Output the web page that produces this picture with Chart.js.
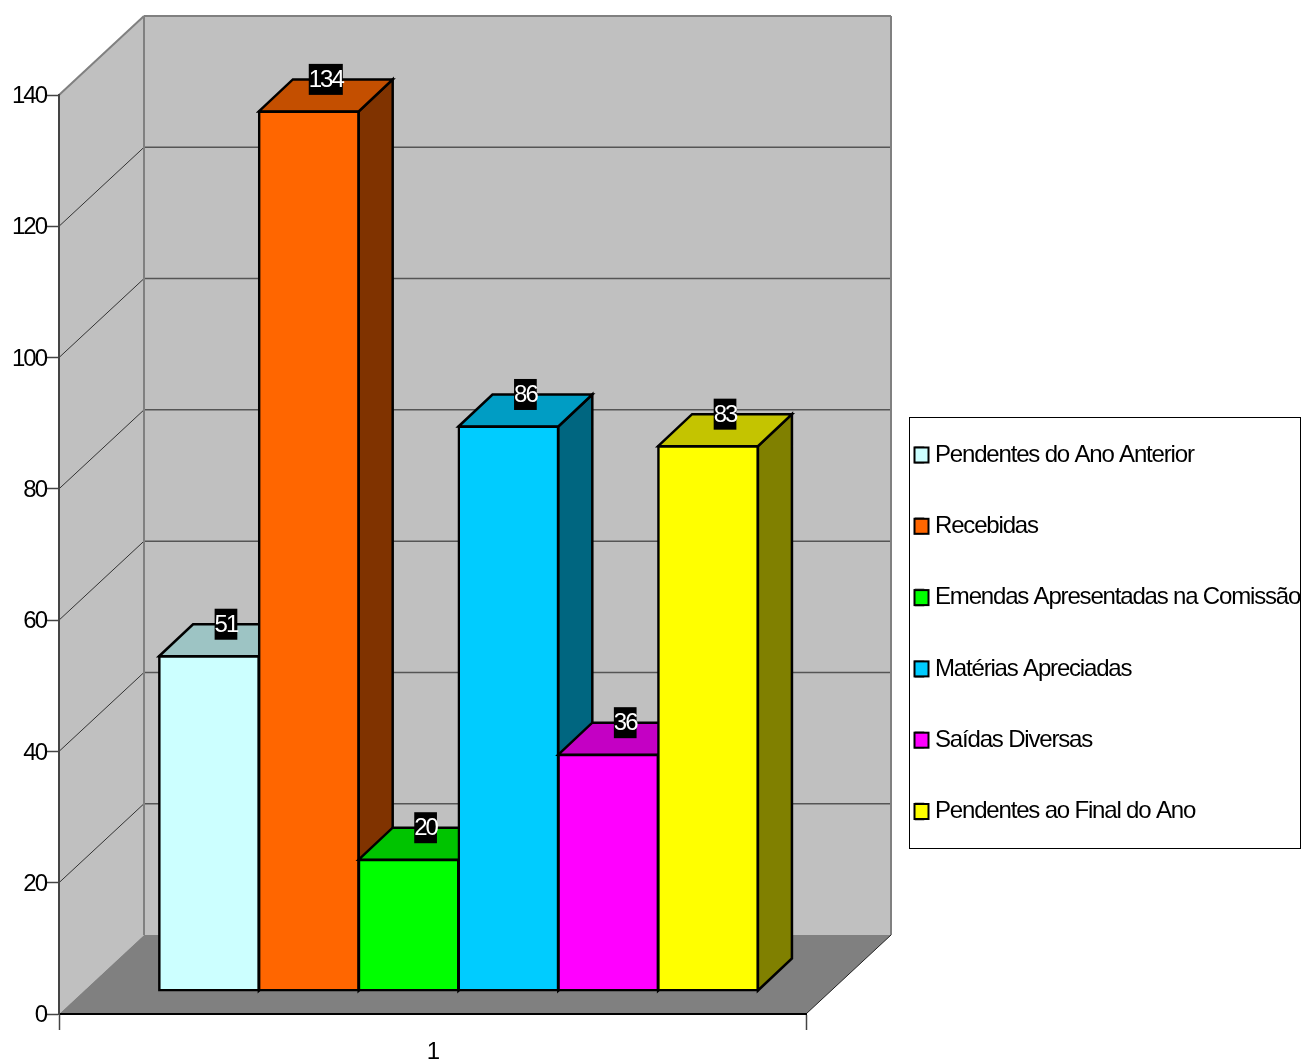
<!DOCTYPE html>
<html>
<head>
<meta charset="utf-8">
<title>Matérias</title>
<script src="https://cdn.jsdelivr.net/npm/chart.js@4/dist/chart.umd.min.js"></script>
<style>
    html, body { margin: 0; padding: 0; background: #fff; }
    canvas { display: block; }
</style>
</head>
<body>
<canvas id="chart" width="1303" height="1059"></canvas>
<script>
const categories = ['1'];
const seriesLabels = [
    'Pendentes do Ano Anterior',
    'Recebidas',
    'Emendas Apresentadas na Comissão',
    'Matérias Apreciadas',
    'Saídas Diversas',
    'Pendentes ao Final do Ano'
];
const seriesValues = [51, 134, 20, 86, 36, 83];
const seriesColors = ['#ccffff', '#ff6600', '#00ff00', '#00ccff', '#ff00ff', '#ffff00'];

// 3D look: how far the back wall and the bars are pushed back
const WALL = { dx: 85, dy: -79 };
const PLANE = { dx: 26, dy: -23 };
const DEPTH = { dx: 34, dy: -32 };
const FONT = '"Liberation Sans", Arial, sans-serif';
const TIGHT = '-2px';
const LEGEND_TIGHT = '-1.18px';

function shade(hex, factor) {
    const n = parseInt(hex.slice(1), 16);
    const c = [n >> 16, (n >> 8) & 255, n & 255].map(v => Math.round(v * factor));
    return `rgb(${c[0]},${c[1]},${c[2]})`;
}

function poly(ctx, pts, fill, stroke, width) {
    ctx.beginPath();
    pts.forEach((p, i) => i ? ctx.lineTo(p[0], p[1]) : ctx.moveTo(p[0], p[1]));
    ctx.closePath();
    if (fill) {
        ctx.fillStyle = fill;
        ctx.fill();
    }
    if (stroke) {
        ctx.strokeStyle = stroke;
        ctx.lineWidth = width;
        ctx.lineJoin = 'miter';
        ctx.stroke();
    }
}

function line(ctx, x1, y1, x2, y2, color, width) {
    ctx.beginPath();
    ctx.moveTo(x1, y1);
    ctx.lineTo(x2, y2);
    ctx.strokeStyle = color;
    ctx.lineWidth = width;
    ctx.stroke();
}

const room = {
    id: 'room',
    beforeDraw(chart) {
        const { ctx, chartArea: a, scales: { y } } = chart;
        ctx.letterSpacing = TIGHT;
        const top = a.top, bottom = a.bottom, left = a.left, right = a.right;
        const bx = left + WALL.dx, by = WALL.dy;
        ctx.save();
        // back wall, left wall, floor
        poly(ctx, [[bx, top + by], [right + WALL.dx, top + by], [right + WALL.dx, bottom + by], [bx, bottom + by]], '#c0c0c0');
        poly(ctx, [[left, top], [bx, top + by], [bx, bottom + by], [left, bottom]], '#c0c0c0');
        y.ticks.forEach(t => {
            if (t.value === 0 || t.value === y.max) return;
            const py = y.getPixelForValue(t.value);
            line(ctx, left, py, bx, py + by, '#333', 1);
            line(ctx, bx, py + by, right + WALL.dx, py + by, '#555', 1.5);
        });
        line(ctx, left, top, bx, top + by, '#808080', 2);
        line(ctx, bx, top + by, right + WALL.dx, top + by, '#808080', 2);
        line(ctx, bx, top + by, bx, bottom + by, '#808080', 2);
        line(ctx, right + WALL.dx, top + by, right + WALL.dx, bottom + by, '#808080', 2);
        poly(ctx, [[left, bottom], [bx, bottom + by], [right + WALL.dx, bottom + by], [right, bottom]], '#808080');
        line(ctx, right, bottom, right + WALL.dx, bottom + by, '#222', 1);
        ctx.restore();
    },
    beforeDatasetsDraw(chart) {
        const ctx = chart.ctx;
        // left to right, so each front face covers the side of the bar before it
        chart.data.datasets.forEach((ds, i) => {
            const meta = chart.getDatasetMeta(i);
            meta.data.forEach(el => {
                const x1 = el.x - el.width / 2 + PLANE.dx;
                const x2 = el.x + el.width / 2 + PLANE.dx;
                const yt = el.y + PLANE.dy;
                const yb = el.base + PLANE.dy;
                poly(ctx, [[x2, yt], [x2 + DEPTH.dx, yt + DEPTH.dy], [x2 + DEPTH.dx, yb + DEPTH.dy], [x2, yb]], shade(ds.backgroundColor, 0.5), '#000', 2.5);
                poly(ctx, [[x1, yt], [x1 + DEPTH.dx, yt + DEPTH.dy], [x2 + DEPTH.dx, yt + DEPTH.dy], [x2, yt]], shade(ds.backgroundColor, 0.77), '#000', 2.5);
            });
            ctx.save();
            ctx.translate(PLANE.dx, PLANE.dy);
            meta.controller.draw();
            ctx.restore();
        });
        return false;
    },
    afterLayout(chart) {
        // legend sits in its own box right of the plot
        const lg = chart.legend;
        lg.left = 868.7;
        lg.right = 1300;
        lg.top = 395.7;
        lg.bottom = 1000;
        if (!lg.spacedDraw) {
            const drawLegend = lg.draw;
            lg.spacedDraw = true;
            lg.draw = function (...args) {
                chart.ctx.letterSpacing = LEGEND_TIGHT;
                drawLegend.apply(this, args);
                chart.ctx.letterSpacing = TIGHT;
            };
        }
    },
    afterDraw(chart) {
        const ctx = chart.ctx;
        ctx.save();
        // value labels
        ctx.font = `24px ${FONT}`;
        ctx.textAlign = 'center';
        ctx.textBaseline = 'middle';
        chart.data.datasets.forEach((ds, i) => {
            chart.getDatasetMeta(i).data.forEach((el, j) => {
                const text = String(ds.data[j]);
                const cx = el.x + PLANE.dx + DEPTH.dx / 2;
                const cy = el.y + PLANE.dy + DEPTH.dy;
                const w = ctx.measureText(text).width;
                ctx.fillStyle = '#000';
                ctx.fillRect(cx - w / 2, cy - 15.5, w, 31);
                ctx.fillStyle = '#fff';
                ctx.fillText(text, cx, cy + 1);
            });
        });
        // legend frame and square keys
        ctx.strokeStyle = '#000';
        ctx.lineWidth = 1;
        ctx.strokeRect(909.5, 417.5, 391, 431);
        chart.legend.legendHitBoxes.forEach((box, i) => {
            const by = box.top + box.height / 2 - 7.5;
            ctx.fillStyle = '#fff';
            ctx.fillRect(box.left - 1, by - 1, 10, 17);
            ctx.fillStyle = seriesColors[i];
            ctx.fillRect(box.left - 1.5, by, 14, 15);
            ctx.strokeStyle = '#000';
            ctx.lineWidth = 2;
            ctx.strokeRect(box.left - 1.5, by, 14, 15);
        });
        ctx.restore();
    }
};

new Chart(document.getElementById('chart'), {
    type: 'bar',
    data: {
        labels: categories,
        datasets: seriesLabels.map((label, i) => ({
            label: label,
            data: [seriesValues[i]],
            backgroundColor: seriesColors[i],
            borderColor: '#000',
            borderWidth: 2.5,
            borderSkipped: false,
            inflateAmount: 1
        }))
    },
    options: {
        responsive: false,
        animation: false,
        categoryPercentage: 0.8017,
        barPercentage: 1,
        layout: { padding: { top: 95, right: 497, left: 0, bottom: 0 } },
        plugins: {
            tooltip: { enabled: false },
            legend: {
                position: 'chartArea',
                align: 'start',
                labels: {
                    boxWidth: 7,
                    boxHeight: 15,
                    padding: 47.3,
                    color: '#000',
                    font: { family: FONT, size: 24 }
                }
            }
        },
        scales: {
            x: {
                afterFit: s => { s.height = 45; },
                border: { color: '#000', width: 2 },
                grid: { offset: true, drawOnChartArea: false, tickLength: 16, tickWidth: 1.5, color: '#444' },
                ticks: { color: '#000', padding: 8, font: { family: FONT, size: 24 } }
            },
            y: {
                min: 0,
                max: 140,
                afterFit: s => { s.width = 59; },
                border: { color: '#444', width: 2 },
                grid: { drawOnChartArea: false, tickLength: 13, tickWidth: 1.5, color: '#444' },
                ticks: { stepSize: 20, color: '#000', padding: 0, labelOffset: 1.5, font: { family: FONT, size: 24 } }
            }
        }
    },
    plugins: [room]
});
</script>
</body>
</html>
